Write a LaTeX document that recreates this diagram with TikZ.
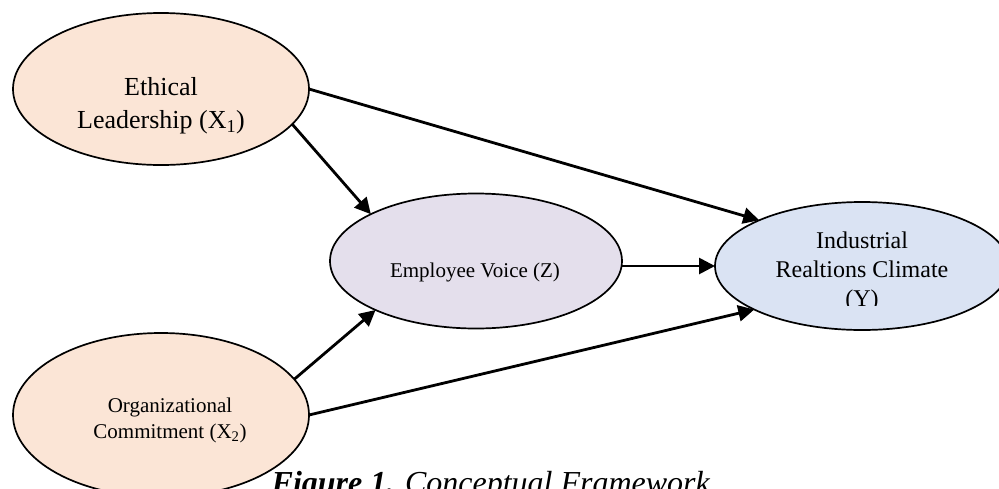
\documentclass[tikz,border=0pt]{standalone}
\usepackage{fontspec}
\setmainfont{Liberation Serif}
\usetikzlibrary{arrows.meta,shapes.geometric}
\definecolor{peach}{HTML}{FBE5D6}
\definecolor{lilac}{HTML}{E4DFEC}
\definecolor{paleblue}{HTML}{DAE3F3}
\begin{document}
\begin{tikzpicture}[x=1pt,y=-1pt,
  oval/.style={ellipse,draw=black,line width=1.7pt,inner sep=0pt,outer sep=0pt},
  lbl/.style={align=center,inner sep=0pt},
  link/.style={line width=2.8pt,-{Triangle[length=16pt,width=16pt]}}]
\useasboundingbox (0,0) rectangle (999,488);
\clip (0,0) rectangle (999,488);
\node[oval,fill=peach,minimum width=296pt,minimum height=152pt] (e1) at (161,89) {};
\node[oval,fill=peach,minimum width=296pt,minimum height=164pt] (e2) at (161,415) {};
\node[oval,fill=lilac,minimum width=292pt,minimum height=135pt] (e3) at (476,261) {};
\node[oval,fill=paleblue,minimum width=294pt,minimum height=128pt] (e4) at (862,266) {};
\node[lbl,font=\fontsize{26}{33}\selectfont] (t1) at (161,106) {Ethical\\Leadership (X\textsubscript{1})};
\node[lbl,font=\fontsize{21}{26}\selectfont] (t2) at (170,420) {Organizational\\Commitment (X\textsubscript{2})};
\node[lbl,font=\fontsize{21}{26}\selectfont] (t3) at (475,272) {Employee Voice (Z)};
\begin{scope}
\clip (700,200) rectangle (999,305);
\node[lbl,font=\fontsize{24}{29}\selectfont] (t4) at (862,272) {Industrial\\Realtions Climate\\(Y)};
\end{scope}
\draw[link] (e1.0) -- (e4.156);
\draw[link] (e1.-15) -- (e3.156);
\draw[link] (e2.15) -- (e3.-154);
\draw[link] (e2.0) -- (e4.-158);
\draw[link] (e3.east |- e4.west) -- (e4.west);
\node[anchor=base,inner sep=0pt,font=\fontsize{32}{38}\selectfont] (cap) at (491,493) {\textbf{\textit{Figure 1.}} \textit{Conceptual Framework}};
\end{tikzpicture}
\end{document}
